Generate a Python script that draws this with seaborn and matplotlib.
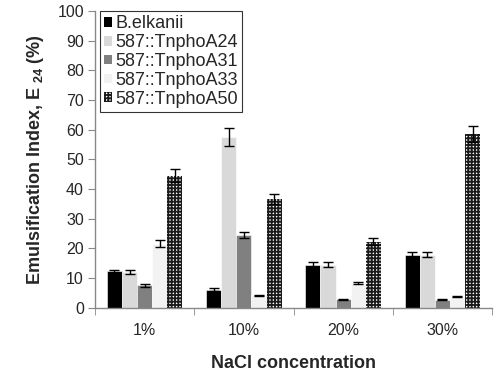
import matplotlib
matplotlib.use("Agg")
import matplotlib.pyplot as plt
import seaborn as sns
import pandas as pd
import numpy as np

categories = ["1%", "10%", "20%", "30%"]
strains = ["B.elkanii", "587::TnphoA24", "587::TnphoA31", "587::TnphoA33", "587::TnphoA50"]
b_elkanii = [12.2, 6.0, 14.5, 17.8]
a24 = [12.0, 57.5, 14.5, 17.8]
a31 = [7.5, 24.5, 2.8, 2.7]
a33 = [21.5, 4.2, 8.3, 3.7]
a50 = [44.5, 36.6, 22.2, 58.5]
err_b = [0.6, 0.5, 0.8, 0.9]
err_a24 = [0.7, 3.0, 0.9, 0.9]
err_a31 = [0.5, 1.1, 0.2, 0.2]
err_a33 = [1.2, 0.2, 0.4, 0.3]
err_a50 = [2.1, 1.8, 1.2, 2.8]
yticks = list(range(0, 101, 10))

values = [b_elkanii, a24, a31, a33, a50]
errors = [err_b, err_a24, err_a31, err_a33, err_a50]

rows = []
for s, vals, errs in zip(strains, values, errors):
    for c, v, e in zip(categories, vals, errs):
        rows.append({"conc": c, "strain": s, "value": v, "err": e})
df = pd.DataFrame(rows)

sns.set_style("white")
plt.rcParams["font.family"] = ["Liberation Sans", "DejaVu Sans"]
plt.rcParams["mathtext.fontset"] = "custom"
plt.rcParams["mathtext.bf"] = "Liberation Sans:bold"
plt.rcParams["mathtext.rm"] = "Liberation Sans"
plt.rcParams["hatch.linewidth"] = 1.3

colors = ["#000000", "#d9d9d9", "#808080", "#f2f2f2", "#ffffff"]
HATCH = "+++++"

fig = plt.figure(figsize=(5.0, 3.76), dpi=100)
ax = fig.add_axes([0.19, 0.182, 0.794, 0.789])

sns.barplot(data=df, x="conc", y="value", hue="strain", order=categories,
            hue_order=strains, palette=colors, width=0.76, gap=0,
            errorbar=None, ax=ax, edgecolor="white", linewidth=0.4, saturation=1)

n = len(categories)
bars = [p for p in ax.patches][: n * len(strains)]
for i, p in enumerate(bars):
    s_idx = i // n
    if s_idx == 4:
        p.set_hatch(HATCH)
        p.set_edgecolor("#1a1a1a")
        p.set_facecolor("white")
        p.set_linewidth(0)

for i, p in enumerate(bars):
    s_idx, c_idx = divmod(i, n)
    xc = p.get_x() + p.get_width() / 2
    ax.errorbar(xc, values[s_idx][c_idx], yerr=errors[s_idx][c_idx], fmt="none",
                ecolor="black", elinewidth=1.0, capsize=3.5, capthick=1.0, zorder=5)

ax.set_ylim(0, 100)
ax.set_xlim(-0.5, n - 0.5)
ax.set_yticks(yticks)
ax.set_yticklabels([str(t) for t in yticks], fontsize=11.5)
ax.set_xticks(range(n))
ax.set_xticklabels(categories, fontsize=11.5)
ax.set_xticks(np.arange(-0.5, n, 1.0), minor=True)
ax.tick_params(axis="x", which="major", length=0, pad=11)
ax.tick_params(axis="x", which="minor", length=5, color="#888888", direction="out", bottom=True)
ax.tick_params(axis="y", length=5, color="#888888", direction="out", left=True, pad=3)

for side in ["top", "right"]:
    ax.spines[side].set_visible(False)
for side in ["left", "bottom"]:
    ax.spines[side].set_color("#888888")
    ax.spines[side].set_linewidth(1.0)

ax.set_xlabel("NaCl concentration", fontsize=13, fontweight="bold", labelpad=12)
ax.set_ylabel(r"Emulsification Index, E $_{\mathbf{24}}$ (%)", fontsize=13,
              fontweight="bold", labelpad=8)

leg = ax.legend(loc="upper left", bbox_to_anchor=(0.012, 1.0), fontsize=13,
                frameon=True, fancybox=False, handlelength=0.45, handleheight=0.45,
                handletextpad=0.15, borderpad=0.25, labelspacing=0.1, borderaxespad=0)
leg.get_frame().set_edgecolor("black")
leg.get_frame().set_linewidth(0.8)
for i, h in enumerate(leg.legend_handles):
    h.set_linewidth(0)
    if i == 4:
        h.set_hatch(HATCH)
        h.set_edgecolor("#1a1a1a")
        h.set_facecolor("white")

fig.savefig("out.png", dpi=100)
